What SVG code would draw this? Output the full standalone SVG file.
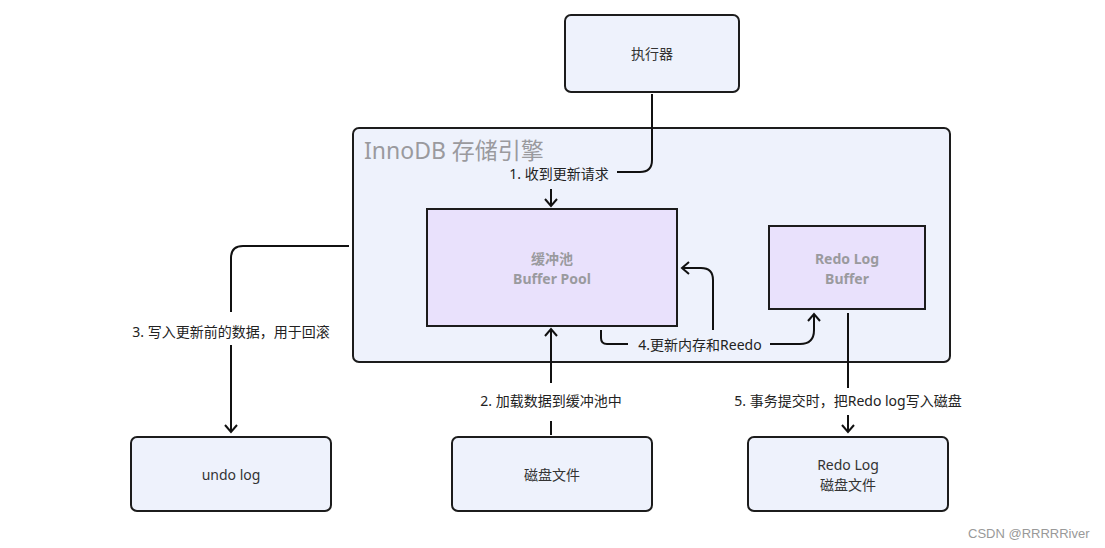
<svg xmlns="http://www.w3.org/2000/svg" width="1105" height="548" viewBox="0 0 1105 548">
<style>
.box{fill:#eef2fc;stroke:#1c1c1c;stroke-width:2}
.pbox{fill:#e9e1fc;stroke:#1c1c1c;stroke-width:2}
.t{font-family:"Noto Sans","Noto Sans CJK SC",sans-serif;font-size:14px;fill:#333;text-anchor:middle}
.pt{font-family:"Noto Sans","Noto Sans CJK SC",sans-serif;font-size:14px;fill:#9a9a9e;font-weight:bold;text-anchor:middle}
.lab{font-family:"Noto Sans","Noto Sans CJK SC",sans-serif;font-size:14px;fill:#222;text-anchor:middle}
.c{fill:none;stroke:#111;stroke-width:2}
</style>
<defs>
<marker id="ah" viewBox="-10 -7 12 14" markerWidth="12" markerHeight="14" refX="0" refY="0" orient="auto" markerUnits="userSpaceOnUse">
<path d="M-7,-6 L0,0 L-7,6" fill="none" stroke="#111" stroke-width="2"/>
</marker>
</defs>
<rect width="1105" height="548" fill="#ffffff"/>
<g id="innodb">
<rect x="353" y="128" width="597" height="234" rx="6" class="box"/>
<text x="364" y="159" font-family="'Noto Sans','Noto Sans CJK SC',sans-serif" font-size="23" fill="#9a9a9e">InnoDB 存储引擎</text>
</g>
<g id="executor">
<rect x="565" y="15" width="174" height="77" rx="6" class="box"/>
<text x="652" y="59" class="t">执行器</text>
</g>
<g id="bufferpool">
<rect x="427" y="209" width="250" height="117" class="pbox"/>
<text x="552" y="264" class="pt">缓冲池</text>
<text x="552" y="284" class="pt">Buffer Pool</text>
</g>
<g id="redologbuffer">
<rect x="769" y="226" width="156" height="83" class="pbox"/>
<text x="847" y="264" class="pt">Redo Log</text>
<text x="847" y="284" class="pt">Buffer</text>
</g>
<g id="undolog">
<rect x="131" y="437" width="200" height="74" rx="6" class="box"/>
<text x="231" y="480" class="t">undo log</text>
</g>
<g id="disk">
<rect x="452" y="437" width="200" height="74" rx="6" class="box"/>
<text x="552" y="480" class="t">磁盘文件</text>
</g>
<g id="redologdisk">
<rect x="748" y="437" width="200" height="74" rx="6" class="box"/>
<text x="848" y="470" class="t">Redo Log</text>
<text x="848" y="490" class="t">磁盘文件</text>
</g>
<g id="connectors">
<path class="c" d="M652,94 V160 Q652,172 640,172 H617"/>
<path class="c" d="M551,189 V206" marker-end="url(#ah)"/>
<text x="559" y="179" class="lab">1. 收到更新请求</text>

<path class="c" d="M551,435 V421"/>
<path class="c" d="M551,383 V329" marker-end="url(#ah)"/>
<text x="551" y="406" class="lab">2. 加载数据到缓冲池中</text>

<path class="c" d="M349,246 H243 Q231,246 231,258 V312"/>
<path class="c" d="M231,345 V432" marker-end="url(#ah)"/>
<text x="231" y="337" class="lab">3. 写入更新前的数据，用于回滚</text>

<path class="c" d="M601,330 V338 Q601,344 607,344 H628"/>
<path class="c" d="M770,344 H800 Q814,344 814,330 V314" marker-end="url(#ah)"/>
<path class="c" d="M713,330 V280 Q713,268 701,268 H682" marker-end="url(#ah)"/>
<text x="700" y="350" class="lab">4.更新内存和Reedo</text>

<path class="c" d="M848,313 V388"/>
<path class="c" d="M848,415 V432" marker-end="url(#ah)"/>
<text x="848" y="406" class="lab">5. 事务提交时，把Redo log写入磁盘</text>
</g>
<text x="968" y="538" font-family="'Liberation Sans',sans-serif" font-size="13" fill="#999">CSDN @RRRRRiver</text>
</svg>
